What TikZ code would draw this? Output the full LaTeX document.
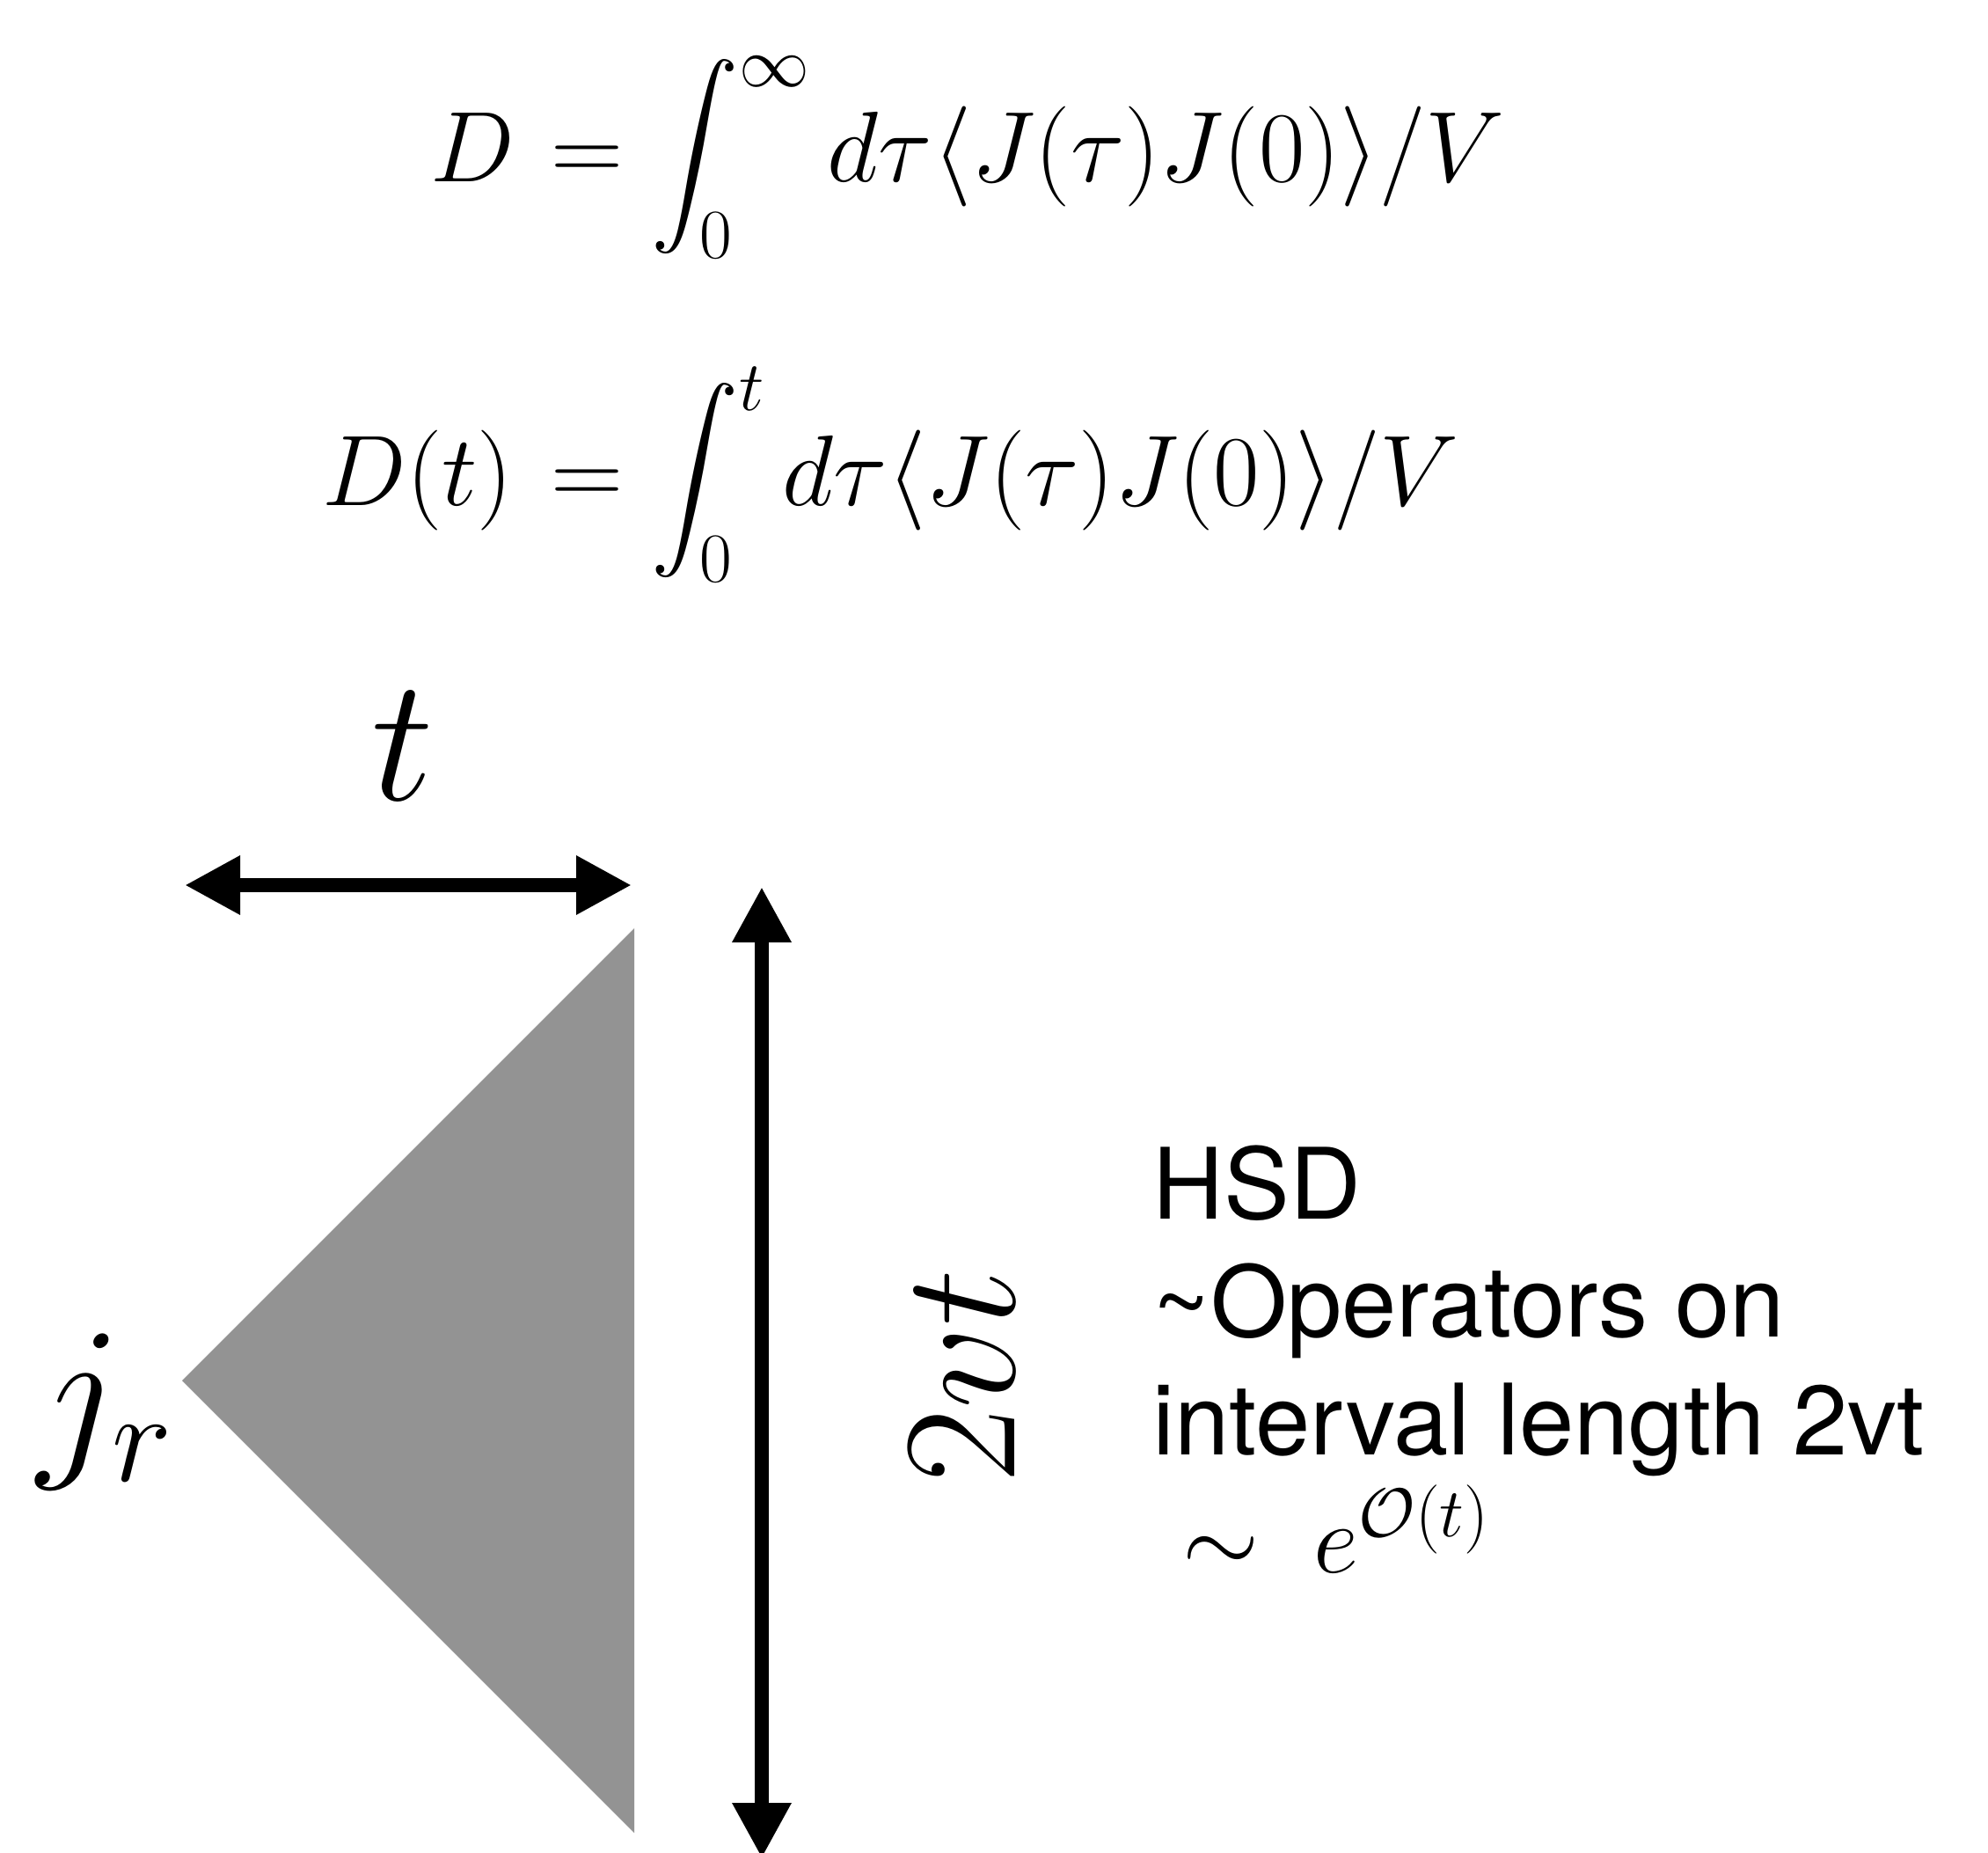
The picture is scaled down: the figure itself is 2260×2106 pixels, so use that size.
\RequirePackage{fix-cm}
\documentclass[tikz,border=0pt]{standalone}
\usepackage{exscale}
\usepackage{fontspec}
\newfontfamily\hsdfont{TeX Gyre Heros}
\usetikzlibrary{arrows.meta}
\definecolor{conegray}{RGB}{147,147,147}

\begin{document}
\begin{tikzpicture}[x=0.25pt, y=-0.25pt,
    dimarrow/.style={line width=3.9pt, {Triangle[length=15.75pt, width=15.75pt]}-{Triangle[length=15.75pt, width=15.75pt]}},
    eqn/.style={inner sep=0pt, font=\fontsize{28.5}{34}\selectfont},
    bigmath/.style={inner sep=0pt, font=\fontsize{46}{52}\selectfont}]
    \useasboundingbox (0,0) rectangle (2260,2106);

    % D over all times and D(t) up to time t
    \node[eqn, anchor=base east] (dinflhs) at (586,207) {$D$};
    \node[eqn, anchor=base west] (dinf) at (626,207) {$\displaystyle =\int_0^\infty d\tau\langle J(\tau)J(0)\rangle/V$};
    \node[eqn, anchor=base east] (dtlhs) at (584,575) {$D(t)$};
    \node[eqn, anchor=base west] (dt) at (626,575) {$\displaystyle =\int_0^t d\tau\langle J(\tau)J(0)\rangle/V$};

    % light cone of the current operator
    \coordinate (apex) at (207,1569);
    \coordinate (ctop) at (721,1055);
    \coordinate (cbot) at (721,2083);
    \fill[conegray] (apex) -- (ctop) -- (cbot) -- cycle;
    \node[inner sep=0pt, anchor=base west, font=\fontsize{52}{58}\selectfont] (jr) at (42,1652) {$j_r$};

    % width t
    \coordinate (tleft) at (210,1006);
    \coordinate (tright) at (718,1006);
    \draw[dimarrow] (tleft) -- (tright);
    \node[bigmath, font=\fontsize{50}{56}\selectfont] (tlab) at (458,848) {$t$};

    % height 2vt
    \coordinate (vtop) at (866,1008);
    \coordinate (vbot) at (866,2112);
    \draw[dimarrow] (vtop) -- (vbot);
    \node[bigmath, rotate=90, anchor=base] (vtlab) at (1153,1564) {$2vt$};

    % Hilbert space dimension
    \node[inner sep=0pt, anchor=north west, align=left, font=\hsdfont\fontsize{28}{33.5}\selectfont] (hsd) at (1310,1301)
        {HSD\\\textasciitilde Operators on\\interval length 2vt\\\hspace*{0.3em}$\sim\; e^{\mathcal{O}(t)}$};
\end{tikzpicture}
\end{document}
